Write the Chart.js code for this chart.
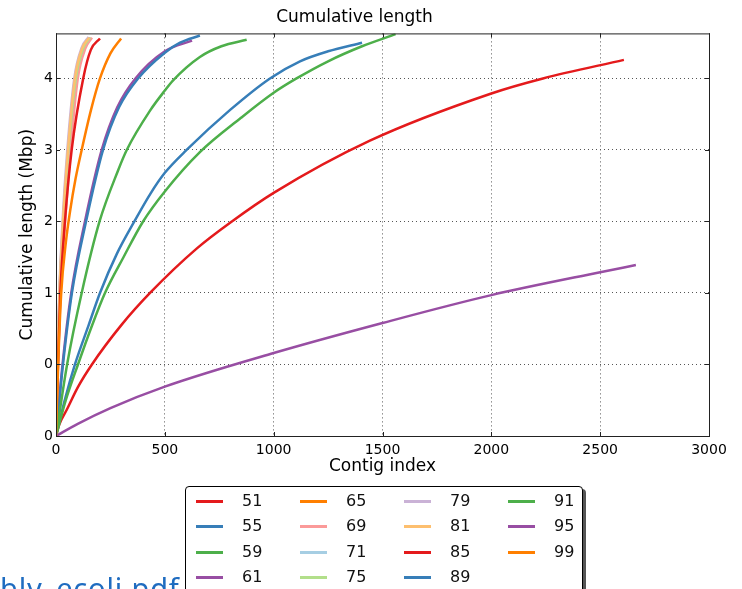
<!DOCTYPE html>
<html>
<head>
<meta charset="utf-8">
<title>Cumulative length</title>
<script src="https://cdn.jsdelivr.net/npm/chart.js@4.4.1/dist/chart.umd.min.js"></script>
<style>
  body { margin: 0; background: #fff; overflow: hidden; }
  #wrap { position: relative; width: 742px; height: 589px; overflow: hidden; }
  #legend {
    position: absolute; left: 185px; top: 486px; width: 396px; height: 130px;
    border: 1px solid #000; border-radius: 4px; background: #fff;
    box-shadow: 3px 3px 0 #555;
    font-family: "DejaVu Sans", sans-serif; font-size: 16px; color: #111;
  }
  .item { position: absolute; height: 20px; }
  .item span.ln { position: absolute; left: 0; top: 9px; width: 27px; height: 3px; }
  .item span.tx { position: absolute; left: 46px; top: 0; line-height: 20px; }
  #file {
    position: absolute; left: 0; top: 573px; font-family: "Noto Sans", sans-serif;
    font-size: 29px; line-height: 30px; letter-spacing: 0.8px; color: #1f6cc0; white-space: nowrap;
  }
</style>
</head>
<body>
<div id="wrap">
  <canvas id="lenChart" width="742" height="589"></canvas>
  <div id="file">bly_ecoli.pdf</div>
  <div id="legend"></div>
</div>
<script>
// k-mers y colores (mismo orden que la leyenda)
const kmers = ["51", "55", "59", "61", "65", "69", "71", "75", "79", "81", "85", "89", "91", "95", "99"];
const colors = ["#e41a1c", "#377eb8", "#4daf4a", "#984ea3", "#ff7f00", "#fb9a99", "#a6cee3", "#b2df8a",
  "#cab2d6", "#fdbf6f", "#e41a1c", "#377eb8", "#4daf4a", "#984ea3", "#ff7f00"];

// ticks de los ejes
const xTicks = [0, 500, 1000, 1500, 2000, 2500, 3000];
const yTicks = [0, 1, 2, 3, 4, 5];
const yTickLabels = ["0", "0", "1", "2", "3", "4"];

// curvas [indice de contig, longitud acumulada]
const k51 = [[0, 0], [15, 0.16], [50, 0.37], [100, 0.68], [165, 1], [300, 1.55], [432, 2], [646, 2.62], [808, 3], [1000, 3.4], [1442, 4.13], [2000, 4.79], [2237, 5.0], [2609, 5.26]];
const k55 = [[0, 0], [40, 0.5], [87, 1], [150, 1.55], [202, 2], [280, 2.55], [360, 3], [432, 3.38], [500, 3.68], [600, 4], [800, 4.56], [983, 5], [1121, 5.24], [1250, 5.38], [1406, 5.5]];
const k59 = [[0, 0], [45, 0.5], [101, 1], [160, 1.5], [225, 2], [310, 2.5], [400, 3], [500, 3.42], [661, 3.97], [850, 4.45], [1000, 4.8], [1105, 5], [1250, 5.24], [1406, 5.45], [1560, 5.62]];
const k61 = [[0, 0], [30, 1], [70, 2], [133, 3], [210, 4], [282, 4.6], [365, 5], [500, 5.38], [625, 5.53]];
const k65 = [[0, 0], [8, 1], [18, 2], [36, 3], [60, 4], [94, 5], [128, 5.42], [158, 5.57]];
const k69 = [[0, 0], [9, 1], [21, 2], [42, 3], [67, 4], [100, 5], [135, 5.42], [165, 5.57]];
const k71 = [[0, 0], [7, 1], [16, 2], [33, 3], [56, 4], [90, 5], [123, 5.42], [155, 5.57]];
const k75 = [[0, 0], [7, 1], [17, 2], [33, 3], [57, 4], [91, 5], [125, 5.42], [156, 5.57]];
const k79 = [[0, 0], [6, 1], [15, 2], [30, 3], [52, 4], [84, 5], [118, 5.43], [150, 5.58]];
const k81 = [[0, 0], [7, 1], [16, 2], [32, 3], [55, 4], [87, 5], [120, 5.42], [152, 5.57]];
const k85 = [[0, 0], [9, 1], [20, 2], [41, 3], [72, 4], [125, 5], [160, 5.4], [202, 5.56]];
const k89 = [[0, 0], [32, 1], [73, 2], [138, 3], [216, 4], [290, 4.6], [377, 5], [500, 5.36], [570, 5.5], [661, 5.6]];
const k91 = [[0, 0], [51, 1], [118, 2], [200, 3], [286, 3.72], [325, 4], [432, 4.55], [500, 4.83], [537, 4.97], [661, 5.3], [760, 5.45], [876, 5.54]];
const k95 = [[0, 0], [100, 0.17], [250, 0.39], [500, 0.69], [1000, 1.16], [1500, 1.58], [2000, 1.97], [2500, 2.29], [2664, 2.39]];
const k99 = [[0, 0], [10, 1], [24, 2], [45, 2.7], [65, 3.15], [90, 3.6], [118, 4], [160, 4.55], [202, 5], [250, 5.35], [299, 5.56]];

const series = [k51, k55, k59, k61, k65, k69, k71, k75, k79, k81, k85, k89, k91, k95, k99];

const font = "DejaVu Sans";

// marco y ticks interiores estilo matplotlib
const framePlugin = {
  id: "frame",
  afterDraw(chart) {
    const { ctx, chartArea: a, scales } = chart;
    ctx.save();
    ctx.strokeStyle = "#222";
    ctx.lineWidth = 1;
    ctx.strokeRect(a.left + 0.5, a.top + 0.5, a.right - a.left, a.bottom - a.top);
    ctx.beginPath();
    xTicks.forEach((v) => {
      const px = Math.round(scales.x.getPixelForValue(v)) + 0.5;
      ctx.moveTo(px, a.bottom); ctx.lineTo(px, a.bottom - 4);
      ctx.moveTo(px, a.top); ctx.lineTo(px, a.top + 4);
    });
    yTicks.forEach((v) => {
      const py = Math.round(scales.y.getPixelForValue(v)) + 0.5;
      ctx.moveTo(a.left, py); ctx.lineTo(a.left + 4, py);
      ctx.moveTo(a.right, py); ctx.lineTo(a.right - 4, py);
    });
    ctx.stroke();
    ctx.restore();
  },
};

const ctx = document.getElementById("lenChart").getContext("2d");
const lenChart = new Chart(ctx, {
  type: "line",
  data: {
    datasets: series.map((pts, i) => ({
      label: kmers[i],
      data: pts.map(([x, y]) => ({ x: x, y: y })),
      borderColor: colors[i],
      borderWidth: 2.5,
      pointRadius: 0,
      fill: false,
      cubicInterpolationMode: "monotone",
      order: series.length - i, // los ultimos quedan encima
    })),
  },
  options: {
    responsive: false,
    animation: false,
    devicePixelRatio: 1,
    layout: { padding: { left: 0, right: 33, top: 0, bottom: 103 } },
    plugins: {
      legend: { display: false },
      tooltip: { enabled: false },
      title: {
        display: true,
        text: "Cumulative length",
        color: "#000",
        font: { family: font, size: 17, weight: "normal" },
        padding: { top: 7, bottom: 6 },
      },
    },
    scales: {
      x: {
        type: "linear",
        min: 0,
        max: 3000,
        afterFit: (s) => { s.height = 50; },
        afterBuildTicks: (s) => { s.ticks = xTicks.map((v) => ({ value: v })); },
        ticks: {
          color: "#000",
          padding: 6,
          font: { family: font, size: 14 },
          maxRotation: 0,
          callback: (v) => String(v),
        },
        grid: { color: "#555", lineWidth: 1, borderDash: [1, 3], drawTicks: false },
        border: { display: false, dash: [1, 3] },
        title: {
          display: true,
          text: "Contig index",
          color: "#000",
          font: { family: font, size: 17 },
          padding: { top: 0, bottom: 9 },
        },
      },
      y: {
        type: "linear",
        min: 0,
        max: 5.63,
        afterFit: (s) => { s.width = 56; },
        afterBuildTicks: (s) => { s.ticks = yTicks.map((v) => ({ value: v })); },
        ticks: {
          color: "#000",
          padding: 3,
          font: { family: font, size: 14 },
          callback: (v, i) => yTickLabels[i],
        },
        grid: { color: "#555", lineWidth: 1, borderDash: [1, 3], drawTicks: false },
        border: { display: false, dash: [1, 3] },
        title: {
          display: true,
          text: "Cumulative length (Mbp)",
          color: "#000",
          font: { family: font, size: 17 },
          padding: { top: 17, bottom: 0 },
        },
      },
    },
  },
  plugins: [framePlugin],
});

// leyenda en 4 filas, por columnas
const legend = document.getElementById("legend");
kmers.forEach((k, i) => {
  const col = Math.floor(i / 4);
  const row = i % 4;
  const item = document.createElement("div");
  item.className = "item";
  item.style.left = 10 + col * 104 + "px";
  item.style.top = 4 + row * 25.4 + "px";
  item.innerHTML = '<span class="ln" style="background:' + colors[i] + '"></span><span class="tx">' + k + "</span>";
  legend.appendChild(item);
});
</script>
</body>
</html>
